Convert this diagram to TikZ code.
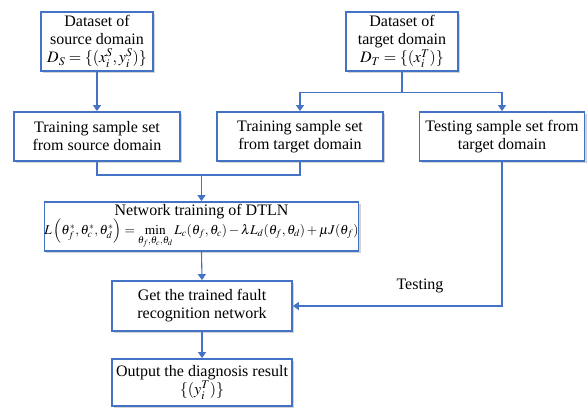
\documentclass[tikz,border=0pt]{standalone}
\usepackage{mathptmx}
\usepackage{graphicx}
\usepackage{fontspec}
\setmainfont{Liberation Serif}
\usetikzlibrary{arrows.meta,shadows,calc}
\definecolor{bblue}{RGB}{68,114,196}
\begin{document}
\begin{tikzpicture}[x=1pt,y=-1pt,
  box/.style={draw=bblue,line width=1.8pt,fill=white,inner sep=0pt,align=center,
    font=\fontsize{16}{18}\selectfont,
    drop shadow={shadow xshift=2pt,shadow yshift=-2pt,opacity=0.35,fill=gray}},
  conn/.style={draw=bblue,line width=1.1pt},
  arr/.style={conn,-{Triangle[width=8pt,length=6pt]}}]
\useasboundingbox (0,0) rectangle (588,409);
\node[box,minimum width=112pt,minimum height=59pt] (b1) at (97,41.5)
  {Dataset of\\source domain\\$D_S=\{(x_i^S,y_i^S)\}$};
\node[box,minimum width=112pt,minimum height=59pt] (b2) at (402,41.5)
  {Dataset of\\target domain\\$D_T=\{(x_i^T)\}$};
\node[box,minimum width=166pt,minimum height=49pt] (b3) at (97,136.5)
  {Training sample set\\from source domain};
\node[box,minimum width=166pt,minimum height=49pt] (b4) at (300,136.5)
  {Training sample set\\from target domain};
\node[box,minimum width=165pt,minimum height=49pt] (b5) at (502,136.5)
  {Testing sample set from\\target domain};
\node[box,minimum width=313pt,minimum height=49pt] (b6) at (201.5,226.5)
  {Network training of DTLN\\[-1pt]
   \resizebox{314pt}{!}{$L\left(\theta_f^*,\theta_c^*,\theta_d^*\right)=\min\limits_{\theta_f,\theta_c,\theta_d} L_c(\theta_f,\theta_c)-\lambda L_d(\theta_f,\theta_d)+\mu J(\theta_f)$}};
\node[box,minimum width=180pt,minimum height=50pt] (b7) at (202,306)
  {Get the trained fault\\recognition network};
\node[box,minimum width=180pt,minimum height=47pt] (b8) at (202,382.5)
  {Output the diagnosis result\\$\{(y_i^T)\}$};
% connectors
\draw[arr] (b1.south) -- (b3.north);
\coordinate (t) at ($(b2.south)+(0,21)$);
\draw[conn] (b2.south) -- (t);
\draw[arr] (t) -| (b4.north);
\draw[arr] (t) -| (b5.north);
\coordinate (m) at (b6.north |- 0,175);
\draw[conn] (b3.south) |- (m) -| (b4.south);
\draw[arr] (m) -- (b6.north);
\draw[arr] (b6.south) -- (b7.north);
\draw[arr] (b7.south) -- (b8.north);
\draw[arr] (b5.south) |- (b7.east);
\node[font=\fontsize{16}{18}\selectfont] (lt) at (420,286) {Testing};
\end{tikzpicture}
\end{document}
